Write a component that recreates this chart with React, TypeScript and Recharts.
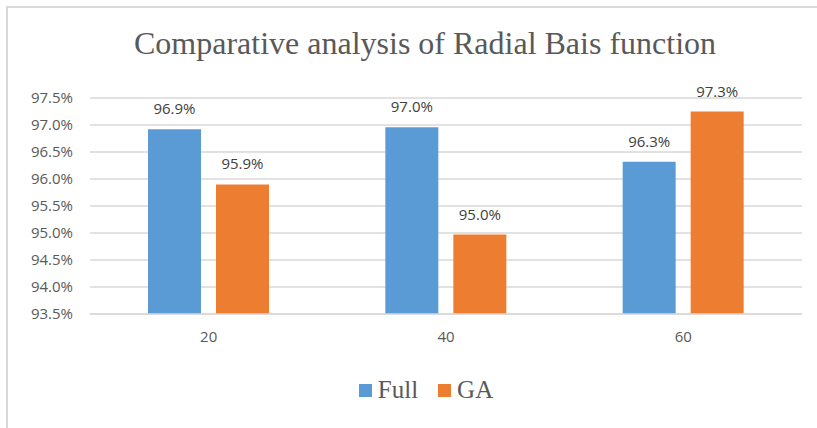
import React from "react"
import { Bar, BarChart, CartesianGrid, LabelList, Legend, XAxis, YAxis } from "recharts"

const categories = ["20", "40", "60"]
const fullValues = [96.92, 96.96, 96.32]
const gaValues = [95.9, 94.97, 97.25]
const yTicks = [93.5, 94.0, 94.5, 95.0, 95.5, 96.0, 96.5, 97.0, 97.5]

const data = categories.map((name, i) => ({ name, Full: fullValues[i], GA: gaValues[i] }))

const pct = (v: any) => Number(v).toFixed(1) + "%"

const sans = "'Open Sans', sans-serif"
const serif = "'Liberation Serif', serif"

const renderLegend = (props: any) => (
  <div style={{ display: "flex", justifyContent: "center", fontFamily: serif, fontSize: 25, color: "#595959", paddingLeft: 40 }}>
    {(props.payload || []).map((p: any) => (
      <span key={p.value} style={{ display: "inline-flex", alignItems: "center", margin: "0 10px" }}>
        <span style={{ width: 13, height: 13, background: p.color, marginRight: 6, display: "inline-block" }} />
        {p.value}
      </span>
    ))}
  </div>
)

export default function App() {
  return (
    <div style={{ position: "relative", width: 817, height: 428, background: "#fff", overflow: "hidden" }}>
      <style>{`body{margin:0}`}</style>
      <div style={{ position: "absolute", left: 6, top: 6, right: -10, bottom: -10, borderLeft: "2px solid #d9d9d9", borderTop: "2px solid #d9d9d9" }} />
      <div style={{ position: "absolute", left: 0, width: 850, top: 25, textAlign: "center", fontFamily: serif, fontSize: 32, color: "#595959" }}>
        Comparative analysis of Radial Bais function
      </div>
      <div style={{ position: "absolute", left: 0, top: 0 }}>
        <BarChart width={817} height={428} data={data} margin={{ top: 98, right: 15, left: 10, bottom: 46 }} barSize={53} barGap={15}>
          <CartesianGrid vertical={false} stroke="#d9d9d9" strokeWidth={1.5} />
          <XAxis dataKey="name" tickLine={false} axisLine={{ stroke: "#d9d9d9", strokeWidth: 1.5 }} tick={{ fill: "#595959", fontSize: 15, fontFamily: sans }} tickMargin={11} height={40} />
          <YAxis domain={[93.5, 97.5]} ticks={yTicks} tickFormatter={pct} axisLine={false} tickLine={false} width={80} tickMargin={11} tick={{ fill: "#595959", fontSize: 15, fontFamily: sans }} interval={0} />
          <Legend wrapperStyle={{ top: 376 }} content={renderLegend} />
          <Bar dataKey="Full" fill="#5b9bd5" isAnimationActive={false}>
            <LabelList dataKey="Full" position="top" offset={15} formatter={pct} fill="#404040" fontSize={15} fontFamily={sans} />
          </Bar>
          <Bar dataKey="GA" fill="#ed7d31" isAnimationActive={false}>
            <LabelList dataKey="GA" position="top" offset={15} formatter={pct} fill="#404040" fontSize={15} fontFamily={sans} />
          </Bar>
        </BarChart>
      </div>
    </div>
  )
}
